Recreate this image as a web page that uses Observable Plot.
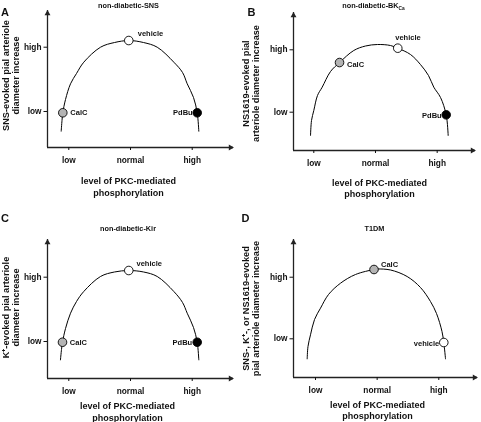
<!DOCTYPE html>
<html>
<head>
<meta charset="utf-8">
<script src="https://cdn.jsdelivr.net/npm/d3@7"></script>
<script src="https://cdn.jsdelivr.net/npm/@observablehq/plot@0.6"></script>
<style>
  html, body { margin: 0; padding: 0; background: #fff; }
  #grid { display: grid; grid-template-columns: 240px 241px; grid-template-rows: 211px 211px; width: 481px; height: 422px; }
  #grid svg { display: block; will-change: transform; }
</style>
</head>
<body>
<div id="grid"></div>
<script>
// ---- shared tick labels ----
const xTickValues = [1, 2, 3];
const xTickLabels = ["low", "normal", "high"];
const yTickValues = [1, 2];
const yTickLabels = ["low", "high"];
const xAxisLabel = "level of PKC-mediated\nphosphorylation";

// ---- panel A: non-diabetic-SNS ----
const aCurveX = [0.877, 0.890, 0.903, 0.947, 1.028, 1.125, 1.243, 1.514, 1.741, 1.972, 2.211, 2.433, 2.702, 2.843, 2.919, 3.021, 3.081, 3.107];
const aCurveY = [0.694, 0.860, 0.980, 1.187, 1.431, 1.591, 1.767, 2.000, 2.073, 2.104, 2.073, 2.000, 1.767, 1.607, 1.431, 1.218, 0.980, 0.694];
const aPointNames = ["CalC", "vehicle", "PdBu"];
const aPointX = [0.903, 1.972, 3.081];
const aPointY = [0.980, 2.104, 0.980];

// ---- panel B: non-diabetic-BKCa ----
const bCurveX = [0.947, 0.963, 1.000, 1.060, 1.136, 1.271, 1.417, 1.648, 1.838, 2.032, 2.243, 2.361, 2.567, 2.729, 2.859, 2.945, 3.054, 3.146, 3.178];
const bCurveY = [0.627, 0.867, 1.027, 1.268, 1.401, 1.652, 1.796, 1.989, 2.061, 2.085, 2.069, 2.026, 1.925, 1.764, 1.588, 1.401, 1.236, 0.958, 0.627];
const bPointNames = ["CalC", "vehicle", "PdBu"];
const bPointX = [1.417, 2.361, 3.146];
const bPointY = [1.796, 2.026, 0.958];

// ---- panel C: non-diabetic-Kir ----
const cCurveX = [0.865, 0.882, 0.898, 0.947, 1.028, 1.125, 1.243, 1.514, 1.741, 1.972, 2.211, 2.433, 2.702, 2.843, 2.919, 3.021, 3.081, 3.107];
const cCurveY = [0.715, 0.876, 0.989, 1.202, 1.440, 1.622, 1.778, 2.011, 2.081, 2.104, 2.081, 2.011, 1.778, 1.607, 1.440, 1.218, 0.989, 0.715];
const cPointNames = ["CalC", "vehicle", "PdBu"];
const cPointX = [0.898, 1.972, 3.081];
const cPointY = [0.989, 2.104, 0.989];

// ---- panel D: T1DM ----
const dCurveX = [0.865, 0.878, 0.919, 0.984, 1.081, 1.211, 1.406, 1.649, 1.949, 2.006, 2.217, 2.487, 2.703, 2.865, 2.963, 3.052, 3.081, 3.109];
const dCurveY = [0.675, 0.875, 1.065, 1.313, 1.497, 1.719, 1.903, 2.044, 2.125, 2.133, 2.117, 2.011, 1.833, 1.606, 1.411, 1.119, 0.940, 0.675];
const dPointNames = ["CalC", "vehicle"];
const dPointX = [1.949, 3.081];
const dPointY = [2.125, 0.940];

const fontFamily = "'Liberation Sans', Arial, Helvetica, sans-serif";
const pointFill = {CalC: "#b4b4b4", vehicle: "#ffffff", PdBu: "#000000"};

function panel(cfg) {
  const m = cfg.margin;
  const curve = cfg.curveX.map((x, i) => ({x, y: cfg.curveY[i]}));
  const pts = cfg.pointNames.map((name, i) => ({name, x: cfg.pointX[i], y: cfg.pointY[i]}));
  const lab = (text, px, py, o) => Plot.text([text], {
    frameAnchor: "top-left", dx: px - m.left, dy: py - m.top, text: d => d,
    textAnchor: "middle", lineAnchor: "middle", fill: "#111", fontWeight: "bold", ...o
  });
  return Plot.plot({
    width: cfg.width, height: 211,
    marginLeft: m.left, marginTop: m.top, marginRight: m.right, marginBottom: m.bottom,
    x: {domain: cfg.xDomain},
    y: {domain: cfg.yDomain},
    color: {type: "identity"},
    style: {fontFamily, fontWeight: "bold", fontSize: "8.3px", color: "#111", background: "transparent", overflow: "visible"},
    marks: [
      Plot.ruleX([cfg.xDomain[0]], {stroke: "#222", strokeWidth: 1.3}),
      Plot.ruleY([cfg.yDomain[0]], {stroke: "#222", strokeWidth: 1.3}),
      Plot.dot([[cfg.xDomain[0], cfg.yDomain[1]]], {x: d => d[0], y: d => d[1], symbol: "triangle", r: 2.2, fill: "#222", dy: 3}),
      Plot.dot([[cfg.xDomain[1], cfg.yDomain[0]]], {x: d => d[0], y: d => d[1], symbol: "triangle", r: 2.2, fill: "#222", rotate: 90, dx: -3}),
      Plot.axisX({ticks: xTickValues, tickFormat: d => xTickLabels[xTickValues.indexOf(d)], tickSize: 3, tickPadding: 6.5, label: null, fontSize: 8.3}),
      Plot.axisY({ticks: yTickValues, tickFormat: d => yTickLabels[yTickValues.indexOf(d)], tickSize: 3.5, tickPadding: 2.5, label: null, fontSize: 8.3}),
      Plot.line(curve, {x: "x", y: "y", curve: "catmull-rom", stroke: "#000", strokeWidth: 1}),
      Plot.dot(pts, {x: "x", y: "y", r: 4.3, fill: d => pointFill[d.name], stroke: "#000", strokeWidth: 0.9}),
      ...pts.map(p => Plot.text([p], {x: "x", y: "y", text: "name", fontSize: 7.5, fontWeight: "bold", fill: "#111", ...cfg.labelPos[p.name]})),
      lab(cfg.letter, cfg.letterPos[0], cfg.letterPos[1], {fontSize: 11}),
      lab(cfg.title, cfg.titlePos[0], cfg.titlePos[1], {fontSize: 7.3}),
      lab(xAxisLabel, cfg.xLabelPos[0], cfg.xLabelPos[1], {fontSize: 9, lineHeight: 1.28}),
      lab(cfg.yLabel, cfg.yLabelPos[0], cfg.yLabelPos[1], {fontSize: 9.2, lineHeight: 1.08, rotate: -90})
    ]
  });
}

const grid = document.getElementById("grid");

grid.append(panel({
  width: 240, margin: {left: 47, top: 10, right: 7, bottom: 64},
  xDomain: [0.655, 3.669], yDomain: [0.44, 2.571],
  curveX: aCurveX, curveY: aCurveY, pointNames: aPointNames, pointX: aPointX, pointY: aPointY,
  labelPos: {CalC: {dx: 7.5, dy: 0, textAnchor: "start"}, vehicle: {dx: 9, dy: -7, textAnchor: "start"}, PdBu: {dx: -4.5, dy: 0, textAnchor: "end"}},
  letter: "A", letterPos: [4.5, 11.5],
  title: "non-diabetic-SNS", titlePos: [128, 5.5],
  xLabelPos: [128, 186],
  yLabel: "SNS-evoked pial arteriole\ndiameter increase", yLabelPos: [10, 75]
}));

const pB = panel({
  width: 241, margin: {left: 53, top: 12, right: 6, bottom: 61},
  xDomain: [0.671, 3.621], yDomain: [0.386, 2.598],
  curveX: bCurveX, curveY: bCurveY, pointNames: bPointNames, pointX: bPointX, pointY: bPointY,
  labelPos: {CalC: {dx: 7.5, dy: 2, textAnchor: "start"}, vehicle: {dx: -2.5, dy: -10.5, textAnchor: "start"}, PdBu: {dx: -4.5, dy: 0.5, textAnchor: "end"}},
  letter: "B", letterPos: [11, 12],
  title: "non-diabetic-BK", titlePos: [133, 5.5],
  xLabelPos: [139, 187.5],
  yLabel: "NS1619-evoked pial\narteriole diameter increase", yLabelPos: [10, 83]
});
d3.select(pB).selectAll("text").filter(function() { return this.textContent === "non-diabetic-BK"; })
  .append("tspan").attr("font-size", 4.8).attr("dy", 1.8).text("Ca");
grid.append(pB);

grid.append(panel({
  width: 240, margin: {left: 47, top: 28, right: 7, bottom: 44},
  xDomain: [0.655, 3.669], yDomain: [0.425, 2.586],
  curveX: cCurveX, curveY: cCurveY, pointNames: cPointNames, pointX: cPointX, pointY: cPointY,
  labelPos: {CalC: {dx: 7.3, dy: 0, textAnchor: "start"}, vehicle: {dx: 7.7, dy: -7, textAnchor: "start"}, PdBu: {dx: -5, dy: 0, textAnchor: "end"}},
  letter: "C", letterPos: [4.5, 7.3],
  title: "non-diabetic-Kir", titlePos: [127.5, 16.7],
  xLabelPos: [127, 199.8],
  yLabel: "K\u207A-evoked pial arteriole\ndiameter increase", yLabelPos: [10, 96]
}));

grid.append(panel({
  width: 241, margin: {left: 53, top: 28, right: 4, bottom: 45},
  xDomain: [0.643, 3.628], yDomain: [0.372, 2.612],
  curveX: dCurveX, curveY: dCurveY, pointNames: dPointNames, pointX: dPointX, pointY: dPointY,
  labelPos: {CalC: {dx: 7, dy: -5, textAnchor: "start"}, vehicle: {dx: -4.5, dy: 1.5, textAnchor: "end"}},
  letter: "D", letterPos: [5, 6.7],
  title: "T1DM", titlePos: [134, 17],
  xLabelPos: [137, 198.5],
  yLabel: "SNS-, K\u207A-, or NS1619-evoked\npial arteriole diameter increase", yLabelPos: [10, 97]
}));
</script>
</body>
</html>
